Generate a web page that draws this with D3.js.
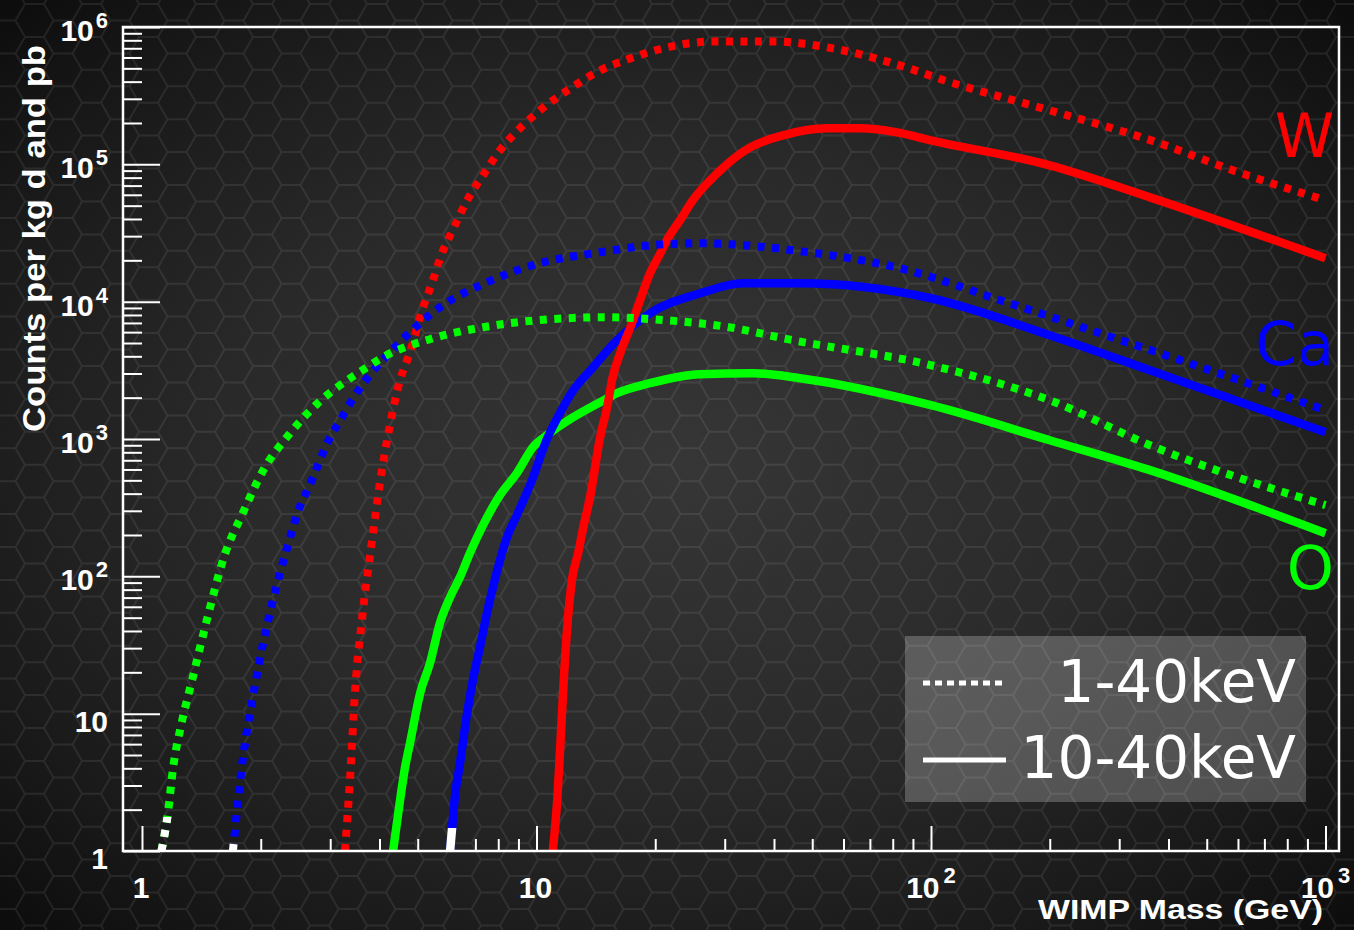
<!DOCTYPE html>
<html>
<head>
<meta charset="utf-8">
<script src="https://cdn.jsdelivr.net/npm/d3@7"></script>
<style>
  html, body { margin: 0; padding: 0; background: #111; }
  svg { display: block; }
</style>
</head>
<body>
<svg id="chart" width="1354" height="930"></svg>
<script>
// Expected WIMP event rates: [WIMP mass (GeV), counts per kg d and pb]
// "Total" = 1-40 keV recoil window, "High" = 10-40 keV window.
const wTotal = [[3.27,1],[3.37,3.46],[3.47,14.9],[3.61,48],[3.83,183],[4.01,477],[4.25,1260],[4.51,2680],[4.78,4280],[5.13,8660],[5.43,13600],[5.76,22500],[6.18,34800],[6.67,54700],[7.32,83200],[8.08,126500],[9.08,182800],[10.2,247000],[12.2,357500],[14.5,483200],[17.3,590900],[21.4,710400],[28.7,785700],[39.8,785700],[56.4,698700],[78.7,552600],[112,395300],[200,247000],[374,144600],[563,93500],[1000,54700]];
const wHigh = [[11.0,1],[11.3,2.47],[11.5,6.11],[11.7,15.6],[11.95,40.6],[12.3,93.8],[12.75,147.5],[13.1,217],[13.7,390],[14.5,1031],[15.1,1703],[15.6,2817],[16.3,4212],[17.3,6512],[18.3,10240],[19.4,16100],[20.6,22500],[21.4,27990],[23.1,39120],[24.9,54700],[28.7,86000],[34.8,132900],[42.2,162600],[54.5,182800],[66.1,182800],[82,171000],[100,149500],[200,98300],[359,57500],[1000,20700]];
const caTotal = [[1.70,1],[1.80,4.6],[1.93,15.6],[2.35,174],[2.51,319],[2.64,438],[3.00,1031],[3.18,1370],[3.47,2084],[3.83,3063],[4.30,4430],[5.69,9100],[7.49,13840],[10.4,19350],[14.5,22880],[19.4,25730],[26.0,26610],[38.4,24880],[44.7,23670],[83.5,17500],[150,10240],[268,5890],[374,4280],[1000,1620]];
const caHigh = [[6.04,1],[6.11,1.47],[6.21,2.47],[6.40,4.37],[6.67,10.1],[6.90,17.6],[7.19,30.5],[7.49,54],[7.76,83.5],[8.42,193],[8.92,279],[9.74,501],[10.6,980],[11.5,1567],[12.4,2265],[13.7,3168],[16.0,5236],[19.4,8235],[26.0,11510],[33.4,13610],[46.6,13610],[100,10590],[200,5695],[359,3168],[1000,1120]];
const oTotal = [[1.12,1],[1.16,1.77],[1.20,4.09],[1.26,8.54],[1.34,17.6],[1.46,48],[1.62,143],[1.80,288],[2.03,593],[2.35,1066],[2.79,1822],[3.43,2865],[3.72,3332],[4.08,3938],[5.47,5415],[7.32,6512],[10.8,7446],[15.1,7699],[21.4,7318],[29.7,6622],[44.7,5236],[100,3444],[200,1916],[359,901],[1000,330]];
const oHigh = [[4.33,1],[4.51,2.35],[4.64,4.02],[4.78,6.11],[5.07,14.1],[5.37,23.3],[5.69,45.6],[6.04,70.6],[6.40,98.7],[6.78,147.5],[7.32,236],[8.08,390],[8.92,564],[9.80,872],[10.8,1102],[12.4,1441],[14.5,1853],[16.0,2154],[19.4,2548],[26.0,2962],[35.4,3012],[46.6,2770],[100,1762],[200,980],[359,593],[1000,206]];

// Below these rates the curve segment is drawn white
const whiteTailBelow = { wTotal: 0, wHigh: 0, caTotal: 1.14, caHigh: 1.47, oTotal: 1.77, oHigh: 0 };

const targetNames = ["W", "Ca", "O"];
const targetColors = ["#ff0000", "#0000ff", "#00ff00"];
const legendLabels = ["1-40keV", "10-40keV"];
const yMajorTicks = [1, 10, 100, 1e3, 1e4, 1e5, 1e6];
const yTickExponents = [null, null, "2", "3", "4", "5", "6"];
const yTickBases = ["1", "10", "10", "10", "10", "10", "10"];
const xMajorTicks = [1, 10, 100, 1000];
const xTickExponents = [null, null, "2", "3"];
const xTickBases = ["1", "10", "10", "10"];
const xTitle = "WIMP Mass (GeV)";
const yTitle = "Counts per kg d and pb";

const W = 1354, H = 930;
const plot = { left: 123, right: 1339, top: 27, bottom: 851 };

const svg = d3.select("#chart");
const defs = svg.append("defs");

// ---- background: dark vignette with a honeycomb texture ----
const bg = defs.append("radialGradient").attr("id", "bgGrad")
  .attr("cx", "50%").attr("cy", "50%").attr("r", "72%");
bg.append("stop").attr("offset", "0%").attr("stop-color", "#363636");
bg.append("stop").attr("offset", "45%").attr("stop-color", "#2a2a2a");
bg.append("stop").attr("offset", "80%").attr("stop-color", "#181818");
bg.append("stop").attr("offset", "100%").attr("stop-color", "#0b0b0b");
svg.append("rect").attr("width", W).attr("height", H).attr("fill", "url(#bgGrad)");

defs.append("filter").attr("id", "soft")
  .append("feGaussianBlur").attr("stdDeviation", 0.7);

const hexR = 19, hexH = Math.sqrt(3) * hexR;
let hexPath = "";
for (let col = -1; col * 1.5 * hexR < W + 2 * hexR; col++) {
  const cx = col * 1.5 * hexR + 6;
  const off = (col % 2 === 0) ? 0 : hexH / 2;
  for (let row = -1; row * hexH < H + hexH; row++) {
    const cy = row * hexH + off + 4;
    const pts = d3.range(6).map(i => {
      const a = Math.PI / 3 * i;
      return [cx + hexR * Math.cos(a), cy + hexR * Math.sin(a)];
    });
    hexPath += "M" + pts.map(p => p[0].toFixed(1) + "," + p[1].toFixed(1)).join("L") + "Z";
  }
}
svg.append("path").attr("d", hexPath)
  .attr("fill", "none").attr("stroke", "rgba(255,255,255,0.08)")
  .attr("stroke-width", 2).attr("filter", "url(#soft)");

// ---- scales ----
const x = d3.scaleLog().domain([0.8951, 1082]).range([plot.left, plot.right]);
const y = d3.scaleLog().domain([1, 1e6]).range([plot.bottom, plot.top]);

defs.append("clipPath").attr("id", "plotClip")
  .append("rect").attr("x", plot.left).attr("y", plot.top)
  .attr("width", plot.right - plot.left).attr("height", plot.bottom - plot.top);

// ---- curves ----
const line = d3.line()
  .x(d => x(d[0])).y(d => y(d[1]))
  .curve(d3.curveMonotoneX);

const series = [
  { key: "oHigh",   data: oHigh,   color: targetColors[2], dotted: false },
  { key: "caHigh",  data: caHigh,  color: targetColors[1], dotted: false },
  { key: "wHigh",   data: wHigh,   color: targetColors[0], dotted: false },
  { key: "wTotal",  data: wTotal,  color: targetColors[0], dotted: true },
  { key: "caTotal", data: caTotal, color: targetColors[1], dotted: true },
  { key: "oTotal",  data: oTotal,  color: targetColors[2], dotted: true }
];

const curves = svg.append("g").attr("clip-path", "url(#plotClip)");
series.forEach(s => {
  const attrs = sel => sel
    .attr("d", line(s.data))
    .attr("fill", "none")
    .attr("stroke-width", s.dotted ? 8 : 8.5)
    .attr("stroke-linejoin", "round")
    .attr("stroke-dasharray", s.dotted ? "7,7.5" : null);
  curves.append("path").call(attrs).attr("stroke", s.color);
  const tail = whiteTailBelow[s.key];
  if (tail > 0) {
    const id = "tail-" + s.key;
    defs.append("clipPath").attr("id", id).append("rect")
      .attr("x", plot.left).attr("y", y(tail))
      .attr("width", plot.right - plot.left).attr("height", plot.bottom - y(tail));
    curves.append("g").attr("clip-path", "url(#" + id + ")")
      .append("path").call(attrs).attr("stroke", "#ffffff");
  }
});

// ---- axes: ticks point inward ----
const minorY = [];
for (let k = 0; k < 6; k++) for (let m = 2; m <= 9; m++) minorY.push(m * Math.pow(10, k));
const minorX = [];
for (let k = 0; k < 3; k++) for (let m = 2; m <= 9; m++) minorX.push(m * Math.pow(10, k));

function styleAxis(g) {
  g.select(".domain").remove();
  g.selectAll(".tick line").attr("stroke", "#ffffff").attr("stroke-width", 2);
  g.selectAll(".tick text").remove();
}
svg.append("g").attr("transform", `translate(${plot.left},0)`)
  .call(d3.axisLeft(y).tickValues(minorY).tickSize(-19).tickFormat("")).call(styleAxis);
svg.append("g").attr("transform", `translate(${plot.left},0)`)
  .call(d3.axisLeft(y).tickValues(yMajorTicks).tickSize(-37).tickFormat("")).call(styleAxis);
svg.append("g").attr("transform", `translate(0,${plot.bottom})`)
  .call(d3.axisBottom(x).tickValues(minorX).tickSize(-12).tickFormat("")).call(styleAxis);
svg.append("g").attr("transform", `translate(0,${plot.bottom})`)
  .call(d3.axisBottom(x).tickValues(xMajorTicks).tickSize(-25).tickFormat("")).call(styleAxis);

// frame
svg.append("rect")
  .attr("x", plot.left).attr("y", plot.top)
  .attr("width", plot.right - plot.left).attr("height", plot.bottom - plot.top)
  .attr("fill", "none").attr("stroke", "#ffffff").attr("stroke-width", 2.5);

// ---- tick labels ----
const labelFont = "'Liberation Sans', Arial, Helvetica, sans-serif";
yMajorTicks.forEach((v, i) => {
  const t = svg.append("text")
    .attr("x", 108).attr("y", y(v) + (yTickExponents[i] ? 14 : 18))
    .attr("text-anchor", "end").attr("fill", "#fff")
    .attr("font-family", labelFont).attr("font-weight", "bold").attr("font-size", 30);
  t.append("tspan").text(yTickBases[i]);
  if (yTickExponents[i]) {
    t.append("tspan").attr("font-size", 22).attr("dx", 2).attr("dy", -13).text(yTickExponents[i]);
  }
});
xMajorTicks.forEach((v, i) => {
  const t = svg.append("text")
    .attr("x", x(v) + (xTickExponents[i] ? 0 : -1)).attr("y", 898)
    .attr("text-anchor", "middle").attr("fill", "#fff")
    .attr("font-family", labelFont).attr("font-weight", "bold").attr("font-size", 30);
  t.append("tspan").text(xTickBases[i]);
  if (xTickExponents[i]) {
    t.append("tspan").attr("font-size", 22).attr("dx", 4).attr("dy", -15).text(xTickExponents[i]);
  }
});

// ---- axis titles ----
svg.append("text")
  .attr("x", 1323).attr("y", 919).attr("text-anchor", "end")
  .attr("fill", "#fff").attr("font-family", labelFont).attr("font-weight", "bold")
  .attr("font-size", 27).attr("textLength", 285).attr("lengthAdjust", "spacingAndGlyphs")
  .text(xTitle);
svg.append("text")
  .attr("transform", "translate(45,238.5) rotate(-90)").attr("text-anchor", "middle")
  .attr("fill", "#fff").attr("font-family", labelFont).attr("font-weight", "bold")
  .attr("font-size", 32).attr("textLength", 387).attr("lengthAdjust", "spacingAndGlyphs")
  .text(yTitle);

// ---- target labels ----
const targetLabelY = [157, 365, 589];
targetNames.forEach((name, i) => {
  svg.append("text")
    .attr("x", 1334).attr("y", targetLabelY[i]).attr("text-anchor", "end")
    .attr("fill", targetColors[i]).attr("font-family", "'DejaVu Sans', sans-serif")
    .attr("font-size", 60).text(name);
});

// ---- legend ----
const legend = svg.append("g");
legend.append("rect")
  .attr("x", 905).attr("y", 636).attr("width", 401).attr("height", 166)
  .attr("fill", "rgba(255,255,255,0.23)");
const legendRows = [{ y: 683, ty: 702, dotted: true }, { y: 760, ty: 778, dotted: false }];
legendRows.forEach((r, i) => {
  legend.append("line")
    .attr("x1", 923).attr("x2", 1006).attr("y1", r.y).attr("y2", r.y)
    .attr("stroke", "#fff").attr("stroke-width", 5)
    .attr("stroke-dasharray", r.dotted ? "7,5" : null);
  legend.append("text")
    .attr("x", 1296).attr("y", r.ty).attr("text-anchor", "end")
    .attr("fill", "#fff").attr("font-family", "'DejaVu Sans', sans-serif")
    .attr("font-size", 58).text(legendLabels[i]);
});
</script>
</body>
</html>
